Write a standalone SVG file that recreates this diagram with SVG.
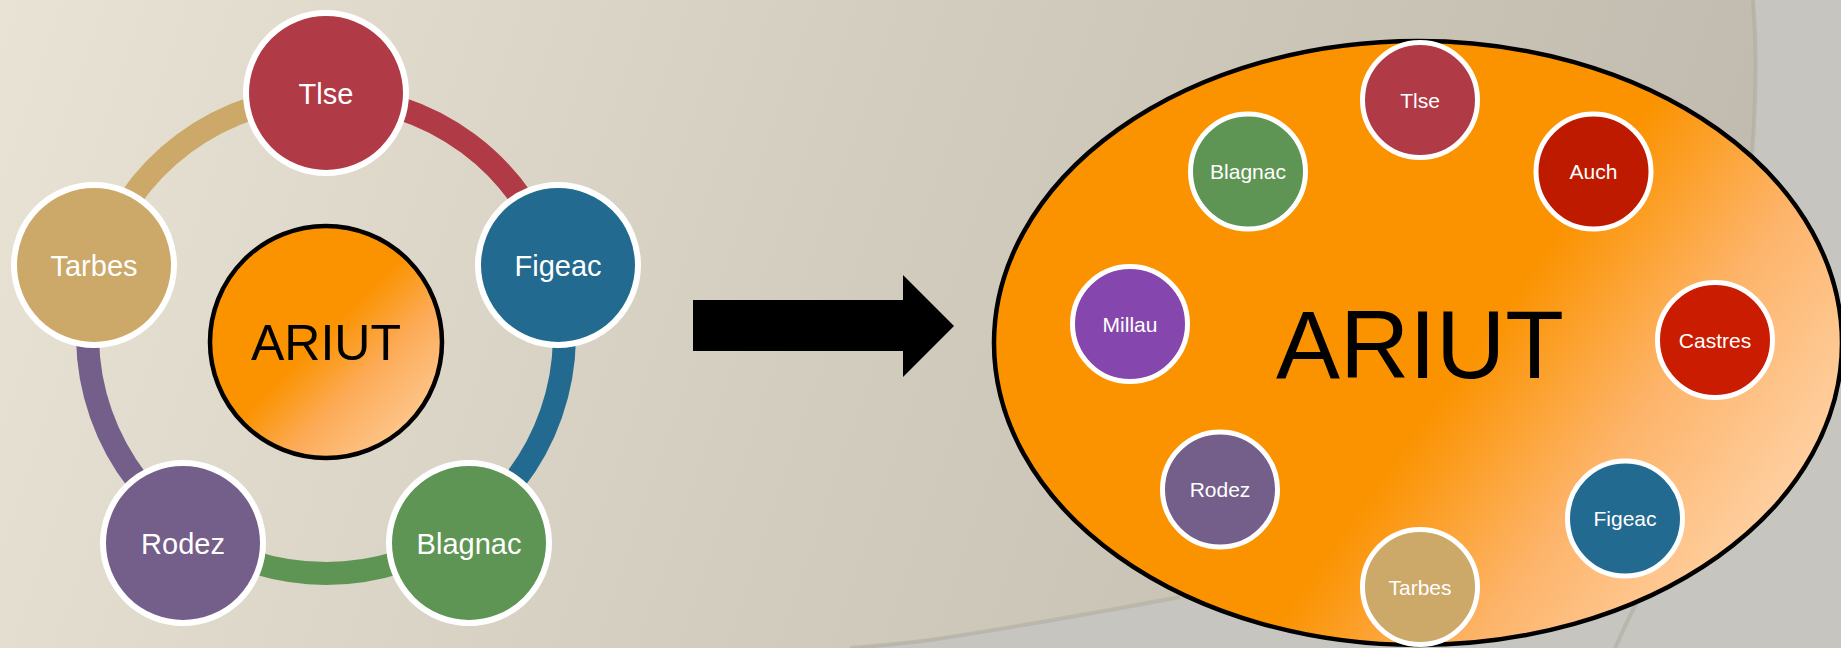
<svg xmlns="http://www.w3.org/2000/svg" width="1841" height="648" viewBox="0 0 1841 648">
  <defs>
    <linearGradient id="bg" gradientUnits="userSpaceOnUse" x1="0" y1="0" x2="1650" y2="560">
      <stop offset="0" stop-color="#e8e3d5"/>
      <stop offset="0.5" stop-color="#d3cdbf"/>
      <stop offset="1" stop-color="#c1bbaf"/>
    </linearGradient>
    <linearGradient id="orangeC" x1="0" y1="0" x2="1" y2="1">
      <stop offset="0" stop-color="#fb9300"/>
      <stop offset="0.48" stop-color="#fb9300"/>
      <stop offset="0.66" stop-color="#fcab57"/>
      <stop offset="1" stop-color="#ffd8b0"/>
    </linearGradient>
    <linearGradient id="orangeE" gradientUnits="userSpaceOnUse" x1="1300" y1="200" x2="1800" y2="560">
      <stop offset="0" stop-color="#fb9300"/>
      <stop offset="0.37" stop-color="#fb9300"/>
      <stop offset="0.65" stop-color="#fdb46a"/>
      <stop offset="1" stop-color="#ffd7b0"/>
    </linearGradient>
    <style>
      .node circle { stroke: #ffffff; stroke-width: 6; }
      .small circle { stroke: #ffffff; stroke-width: 5; }
      .lbl { font-family: "Liberation Sans", Arial, sans-serif; fill: #ffffff; text-anchor: middle; }
      .big { font-family: "Liberation Sans", Arial, sans-serif; fill: #000000; text-anchor: middle; }
      .arc { fill: none; stroke-width: 23; }
      .fold { fill: none; stroke: #a6a294; stroke-width: 4; stroke-opacity: 0.4; }
    </style>
  </defs>

  <!-- background -->
  <rect x="0" y="0" width="1841" height="648" fill="#c6c5bf"/>
  <path d="M0,0 H1753 C1766,150 1730,420 1650,570 C1500,570 1250,585 1100,612 C1010,628 930,640 850,648 H0 Z" fill="url(#bg)"/>
  <path class="fold" d="M1753,0 C1766,150 1730,420 1650,570"/>
  <path class="fold" d="M1180,597 C1100,612 1010,628 930,640 C900,644 875,646 850,648"/>
  <path class="fold" d="M1640,596 C1630,615 1622,632 1615,648"/>

  <!-- connectors -->
  <g id="connectors">
    <path class="arc" stroke="#b03a46" d="M326,96.5 A238.5,238.5 0 0 1 554.3,266.1"/>
    <path class="arc" stroke="#226a90" d="M554.3,266.1 A238.5,238.5 0 0 1 461.4,531.3"/>
    <path class="arc" stroke="#5e9554" d="M461.4,531.3 A238.5,238.5 0 0 1 190.6,531.3"/>
    <path class="arc" stroke="#745e8a" d="M190.6,531.3 A238.5,238.5 0 0 1 97.7,266.1"/>
    <path class="arc" stroke="#cca869" d="M97.7,266.1 A238.5,238.5 0 0 1 326,96.5"/>
    <polygon id="bigArrow" points="693,300 903,300 903,275 954,326 903,377 903,351 693,351" fill="#000000"/>
  </g>

  <!-- left cycle -->
  <g id="ariut-left">
    <circle cx="326" cy="342" r="116" fill="url(#orangeC)" stroke="#000000" stroke-width="4.5"/>
    <text class="big" x="326" y="360" font-size="50">ARIUT</text>
  </g>
  <g id="l-tlse" class="node">
    <circle cx="326" cy="93" r="80" fill="#b03a46"/>
    <text class="lbl" x="326" y="103.5" font-size="29">Tlse</text>
  </g>
  <g id="l-figeac" class="node">
    <circle cx="558" cy="265" r="80" fill="#226a90"/>
    <text class="lbl" x="558" y="275.5" font-size="29">Figeac</text>
  </g>
  <g id="l-blagnac" class="node">
    <circle cx="469" cy="543" r="80" fill="#5e9554"/>
    <text class="lbl" x="469" y="553.5" font-size="29">Blagnac</text>
  </g>
  <g id="l-rodez" class="node">
    <circle cx="183" cy="543" r="80" fill="#745e8a"/>
    <text class="lbl" x="183" y="553.5" font-size="29">Rodez</text>
  </g>
  <g id="l-tarbes" class="node">
    <circle cx="94" cy="265" r="80" fill="#cca869"/>
    <text class="lbl" x="94" y="275.5" font-size="29">Tarbes</text>
  </g>

  <!-- right group -->
  <g id="ariut-right">
    <ellipse cx="1418" cy="343" rx="424" ry="302" fill="url(#orangeE)" stroke="#000000" stroke-width="4.5"/>
    <text class="big" x="1420" y="377.5" font-size="96">ARIUT</text>
  </g>
  <g id="r-tlse" class="small">
    <circle cx="1420" cy="100" r="57.5" fill="#b03a46"/>
    <text class="lbl" x="1420" y="107.5" font-size="21">Tlse</text>
  </g>
  <g id="r-blagnac" class="small">
    <circle cx="1248" cy="171.5" r="57.5" fill="#5e9554"/>
    <text class="lbl" x="1248" y="179" font-size="21">Blagnac</text>
  </g>
  <g id="r-auch" class="small">
    <circle cx="1593.5" cy="171.5" r="57.5" fill="#be1a00"/>
    <text class="lbl" x="1593.5" y="179" font-size="21">Auch</text>
  </g>
  <g id="r-millau" class="small">
    <circle cx="1130" cy="324" r="57.5" fill="#8547ad"/>
    <text class="lbl" x="1130" y="331.5" font-size="21">Millau</text>
  </g>
  <g id="r-castres" class="small">
    <circle cx="1715" cy="340" r="57.5" fill="#ca1c00"/>
    <text class="lbl" x="1715" y="347.5" font-size="21">Castres</text>
  </g>
  <g id="r-rodez" class="small">
    <circle cx="1220" cy="489.5" r="57.5" fill="#745e8a"/>
    <text class="lbl" x="1220" y="497" font-size="21">Rodez</text>
  </g>
  <g id="r-figeac" class="small">
    <circle cx="1625" cy="518.5" r="57.5" fill="#226a90"/>
    <text class="lbl" x="1625" y="526" font-size="21">Figeac</text>
  </g>
  <g id="r-tarbes" class="small">
    <circle cx="1420" cy="587" r="57.5" fill="#cca869"/>
    <text class="lbl" x="1420" y="594.5" font-size="21">Tarbes</text>
  </g>
</svg>
